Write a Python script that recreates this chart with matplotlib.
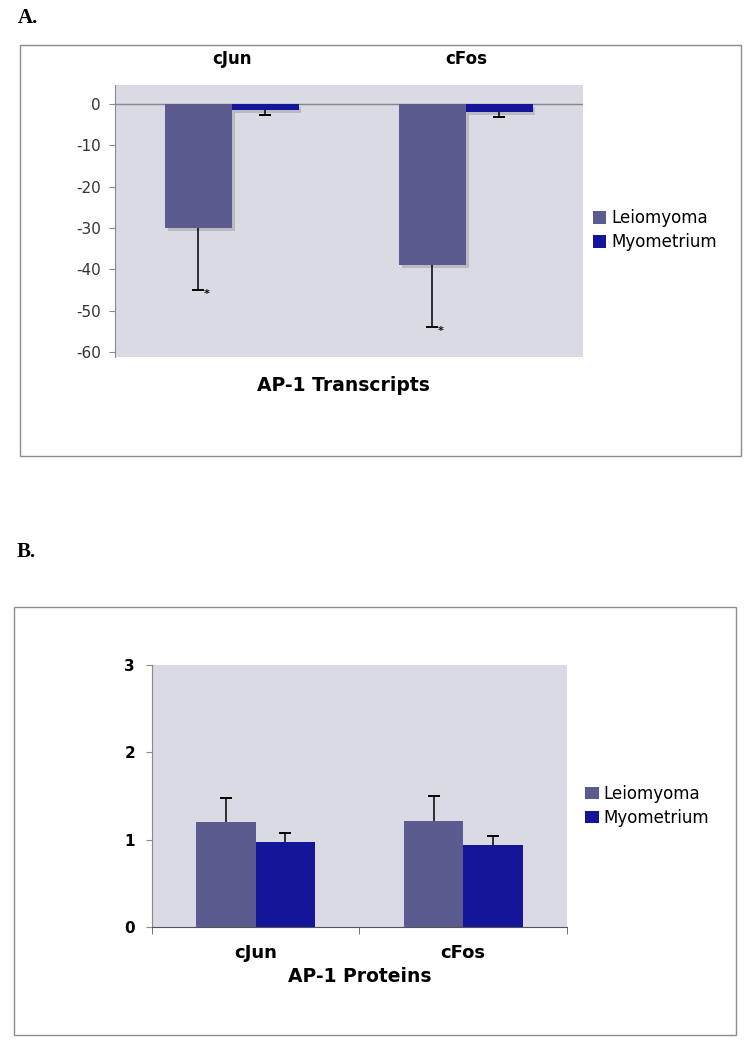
import numpy as np
import matplotlib
matplotlib.use("Agg")
import matplotlib.pyplot as plt
import matplotlib.patheffects as pe
from matplotlib.patches import Rectangle

plt.rcParams["axes.unicode_minus"] = False

# ---------------------------------- Dados ------------------------------------
genes = ["cJun", "cFos"]
series = ["Leiomyoma", "Myometrium"]

# A. AP-1 Transcripts (fold change)
transc_leio = [-30, -39]
transc_leio_err = [15, 15]
transc_myo = [-1.5, -2.0]
transc_myo_err = [1.2, 1.2]

# B. AP-1 Proteins
prot_leio = [1.2, 1.21]
prot_leio_err = [0.28, 0.29]
prot_myo = [0.97, 0.94]
prot_myo_err = [0.11, 0.10]

yticks_a = [-60, -50, -40, -30, -20, -10, 0]
yticks_b = [0, 1, 2, 3]

# --------------------------------- Estilo ------------------------------------
cor_leio = "#5c5b8f"
cor_myo = "#15159a"
cor_fundo = "#d9dae3"
cor_eixo = "#8a8a8a"
w = 1 / 3.5  # largura da barra (gap 150%)
x = np.arange(len(genes))

fig = plt.figure(figsize=(7.51, 10.5), dpi=100)
fig.patch.set_facecolor("white")

# molduras dos painéis
fig.add_artist(Rectangle((0.027, 0.566), 0.960, 0.391, transform=fig.transFigure,
                         fill=False, edgecolor="#8c8c8c", linewidth=1.0))
fig.add_artist(Rectangle((0.019, 0.014), 0.961, 0.408, transform=fig.transFigure,
                         fill=False, edgecolor="#8c8c8c", linewidth=1.0))

fig.text(0.024, 0.983, "A.", family="Liberation Serif", fontweight="bold",
         fontsize=15, va="center")
fig.text(0.022, 0.474, "B.", family="Liberation Serif", fontweight="bold",
         fontsize=15, va="center")


def barras_erro(ax, xs, vals, errs, sinal):
    #   Barras de erro de um só lado, como no Excel
    fim = [v + sinal * e for v, e in zip(vals, errs)]
    ax.vlines(xs, vals, fim, color="black", linewidth=1.1, zorder=4)
    ax.plot(xs, fim, linestyle="none", marker="_", markersize=9,
            markeredgewidth=1.4, color="black", zorder=4)
    return fim


# ------------------------------ Painel A -------------------------------------
axA = fig.add_axes([0.153, 0.66, 0.623, 0.259])
axA.set_facecolor(cor_fundo)
sombra = [pe.SimplePatchShadow(offset=(2, -2), shadow_rgbFace="#9c9ca8", alpha=0.5),
          pe.Normal()]
bA1 = axA.bar(x - w / 2, transc_leio, w, color=cor_leio, label=series[0], zorder=3)
bA2 = axA.bar(x + w / 2, transc_myo, w, color=cor_myo, label=series[1], zorder=3)
for b in list(bA1) + list(bA2):
    b.set_path_effects(sombra)
fimA = barras_erro(axA, x - w / 2, transc_leio, transc_leio_err, -1)
barras_erro(axA, x + w / 2, transc_myo, transc_myo_err, -1)
for xi, yi in zip(x - w / 2, fimA):
    axA.annotate("*", (xi, yi), xytext=(6, -3), textcoords="offset points",
                 fontsize=8, fontweight="bold", ha="center", va="center")

axA.axhline(0, color=cor_eixo, linewidth=1.0, zorder=2)
axA.set_xlim(-0.5, 1.5)
axA.set_ylim(-61.2, 4.6)
axA.set_yticks(yticks_a)
axA.set_xticks([])
for s in ["top", "right", "bottom"]:
    axA.spines[s].set_visible(False)
axA.spines["left"].set_color(cor_eixo)
axA.tick_params(axis="y", length=4, color=cor_eixo, labelsize=11,
                labelcolor="#333333", pad=6)
for xi, g in zip(x, genes):
    axA.text(xi, 1.096, g, transform=axA.get_xaxis_transform(), ha="center",
             va="center", fontsize=12, fontweight="bold")
fig.text(0.457, 0.633, "AP-1 Transcripts", ha="center", va="center",
         fontsize=13.5, fontweight="bold")
legA = axA.legend(loc="upper left", bbox_to_anchor=(1.0, 0.58), frameon=False,
                  fontsize=12, handlelength=0.8, handleheight=0.8, handletextpad=0.3,
                  labelspacing=0.35, borderaxespad=0.2)
for h in legA.legend_handles:
    h.set_path_effects([])

# ------------------------------ Painel B -------------------------------------
axB = fig.add_axes([0.202, 0.117, 0.553, 0.25])
axB.set_facecolor(cor_fundo)
axB.bar(x - w / 2, prot_leio, w, color=cor_leio, label=series[0], zorder=3)
axB.bar(x + w / 2, prot_myo, w, color=cor_myo, label=series[1], zorder=3)
barras_erro(axB, x - w / 2, prot_leio, prot_leio_err, 1)
barras_erro(axB, x + w / 2, prot_myo, prot_myo_err, 1)

axB.set_xlim(-0.5, 1.5)
axB.set_ylim(0, 3)
axB.set_yticks(yticks_b)
axB.set_xticks(x)
axB.set_xticklabels(genes, fontsize=13, fontweight="bold")
axB.set_xticks([-0.5, 0.5, 1.5], minor=True)
axB.tick_params(axis="x", which="major", length=0, pad=12)
axB.tick_params(axis="x", which="minor", length=5, color="#555555")
axB.tick_params(axis="y", length=4, color=cor_eixo, labelsize=11, pad=8)
for t in axB.get_yticklabels():
    t.set_fontweight("bold")
for s in ["top", "right"]:
    axB.spines[s].set_visible(False)
axB.spines["left"].set_color(cor_eixo)
axB.spines["bottom"].set_color("#555555")
axB.set_xlabel("AP-1 Proteins", fontsize=13.5, fontweight="bold", labelpad=4)
axB.legend(loc="upper left", bbox_to_anchor=(1.02, 0.58), frameon=False,
           fontsize=12, handlelength=0.8, handleheight=0.8, handletextpad=0.3,
           labelspacing=0.35, borderaxespad=0.2)

fig.savefig("out.png", dpi=100)
